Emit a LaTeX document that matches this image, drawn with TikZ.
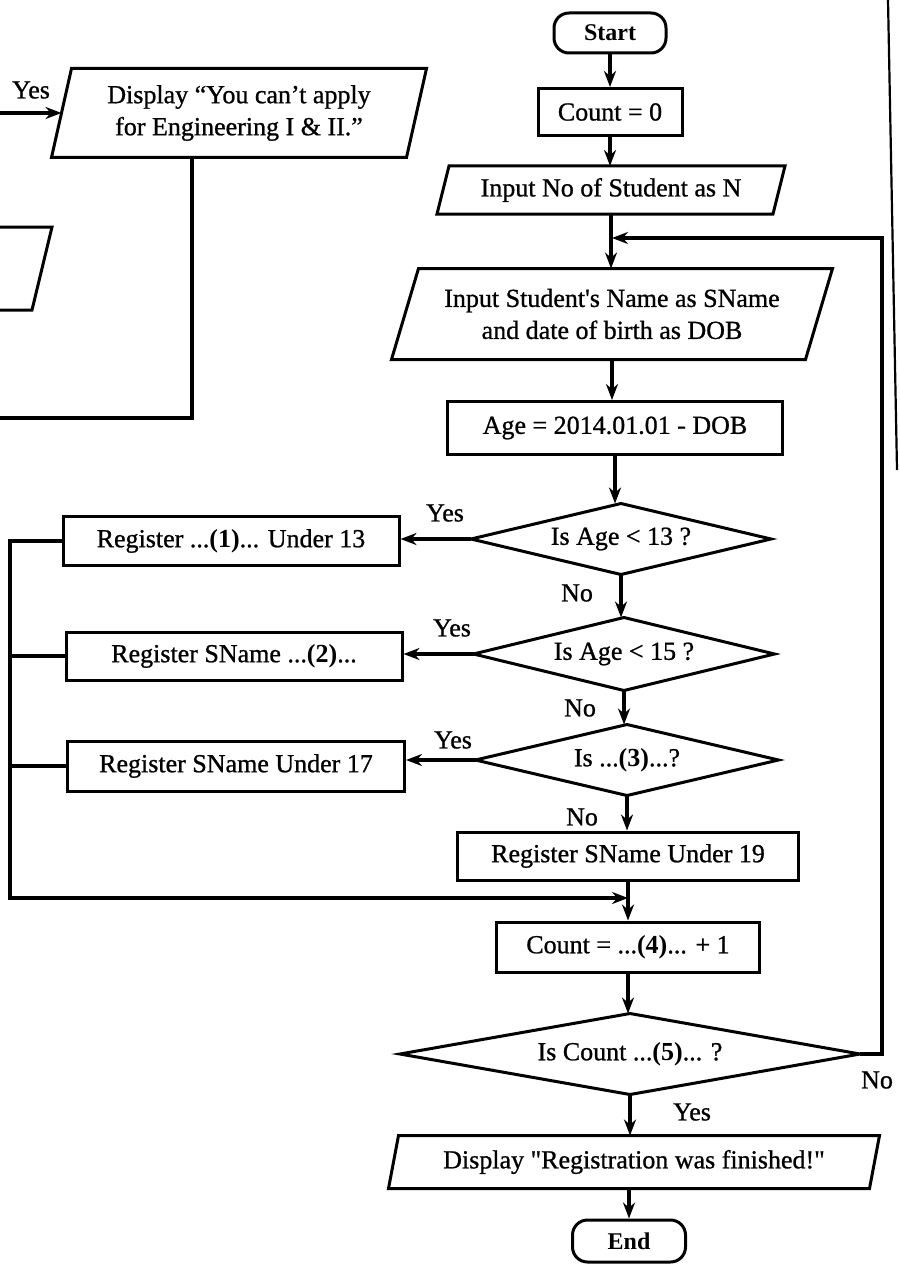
\documentclass[tikz,border=0pt]{standalone}
\usepackage{fontspec}
\setmainfont{Liberation Serif}
\newfontfamily\txt{Liberation Serif}[FakeBold=0.9]
\newfontfamily\txtb{Liberation Serif Bold}
\usetikzlibrary{arrows.meta}
\newcommand\mydiamond[1]{\draw[shapeline] (#1.north) -- (#1.east) -- (#1.south) -- (#1.west) -- cycle;}
\newcommand\mypara[2]{\draw[shapeline] ([xshift=#2]#1.north west) -- ([xshift=#2]#1.north east) -- ([xshift=-#2]#1.south east) -- ([xshift=-#2]#1.south west) -- cycle;}
\newcommand\nb[1]{{\txtb #1}}
\begin{document}
\begin{tikzpicture}[x=1pt,y=-1pt,
  base/.style={font=\txt\fontsize{26}{32}\selectfont, inner sep=0pt, align=center, line width=3pt},
  box/.style={base, draw, rectangle},
  term/.style={base, draw, rounded corners=15pt, font=\txtb\fontsize{24}{28}\selectfont},
  dia/.style={base, rectangle},
  io/.style={base, rectangle},
  shapeline/.style={line width=3pt, line join=miter},
  conn/.style={line width=3.3pt, line cap=butt},
  arr/.style={conn, -{Stealth[length=16pt,width=12pt]}},
  lab/.style={font=\txt\fontsize{26}{30}\selectfont, inner sep=0pt}]
\useasboundingbox (0,0) rectangle (899,1268);

% main column
\node[term, minimum width=112pt, minimum height=40pt] (start) at (610,33) {Start};
\node[box, minimum width=144pt, minimum height=47pt] (c0) at (610,112) {Count = 0};
\node[io, minimum width=333pt, minimum height=45pt] (inN) at (611,190) {Input No of Student as N};
\node[io, minimum width=411pt, minimum height=88pt] (inS) at (612,314) {Input Student's Name as SName\\and date of birth as DOB};
\node[box, minimum width=335pt, minimum height=53pt] (age) at (615,428) {Age = 2014.01.01 - DOB};
\node[dia, minimum width=297pt, minimum height=68pt] (d1) at (621,539) {Is Age < 13 ?};
\node[dia, minimum width=298pt, minimum height=70pt] (d2) at (624,654) {Is Age < 15 ?};
\node[dia, minimum width=300pt, minimum height=68pt] (d3) at (627,760) {Is ...\nb{(3)}...?};
\node[box, minimum width=341pt, minimum height=48pt] (r19) at (628,856) {Register SName Under 19};
\node[box, minimum width=263pt, minimum height=50pt] (c4) at (628,947) {Count = ...\nb{(4)}... + 1};
\node[dia, minimum width=457pt, minimum height=78pt] (d5) at (630,1054) {Is Count ...\nb{(5)}... ?};
\node[io, minimum width=478pt, minimum height=50pt] (fin) at (634,1162) {Display "Registration was finished!"};
\node[term, minimum width=113pt, minimum height=42pt] (end) at (629,1241) {End};

% left register boxes
\node[box, minimum width=336pt, minimum height=49pt] (r1) at (231,541) {Register ...\nb{(1)}... Under 13};
\node[box, minimum width=336pt, minimum height=48pt] (r2) at (234,656) {Register SName ...\nb{(2)}...};
\node[box, minimum width=337pt, minimum height=50pt] (r3) at (236,766) {Register SName Under 17};

% top-left display
\node[io, minimum width=352pt, minimum height=86pt] (td) at (239,113) {Display “You can’t apply\\for Engineering I \& II.”};

% custom outlines
\mypara{inN}{6}
\mypara{inS}{13.5}
\mypara{fin}{5}
\mypara{td}{10}
\mydiamond{d1}
\mydiamond{d2}
\mydiamond{d3}
\mydiamond{d5}

% main flow
\draw[arr] (start) -- (start |- c0.north);
\draw[arr] (c0) -- (c0 |- inN.north);
\draw[arr] (inN) -- (inN |- inS.north);
\draw[arr] (inS) -- (inS |- age.north);
\draw[arr] (age) -- (age |- d1.north);
\draw[arr] (d1) -- (d1 |- d2.north);
\draw[arr] (d2) -- (d2 |- d3.north);
\draw[arr] (d3) -- (d3 |- r19.north);
\draw[arr] (r19) -- (r19 |- c4.north);
\draw[arr] (c4) -- (c4 |- d5.north);
\draw[arr] (d5) -- (d5 |- fin.north);
\draw[arr] (end |- fin.south) -- (end);

% loop back
\coordinate (lp) at (882,238);
\draw[arr] (d5.east) -| (lp) -- (lp -| inS.north);

% yes branches
\draw[arr] (d1.west) -- (d1.west -| r1.east);
\draw[arr] (d2.west) -- (d2.west -| r2.east);
\draw[arr] (d3.west) -- (d3.west -| r3.east);

% left bus
\coordinate (bb) at (10,898);
\draw[arr] (r1.west) -| (bb) -- (bb -| c4.north);
\draw[conn] (r2.west) -- (r2.west -| bb);
\draw[conn] (r3.west) -- (r3.west -| bb);

% top-left fragments
\coordinate (tdin) at (0,113);
\draw[arr] (tdin) -- (td.west);
\coordinate (tdc) at (192,418);
\coordinate (tdl) at (0,418);
\draw[conn] (td.south -| tdc) -- (tdc) -- (tdl);
\draw[shapeline] (0,227) -- (52,227) -- (32,310) -- (0,310);
\draw[line width=2.2pt] (888,0) -- (897,470);

% labels
\node[lab] at (31,90) {Yes};
\node[lab] at (445,513) {Yes};
\node[lab] at (452,628) {Yes};
\node[lab] at (453,740) {Yes};
\node[lab] at (577,593) {No};
\node[lab] at (580,708) {No};
\node[lab] at (582,817) {No};
\node[lab] at (692,1112) {Yes};
\node[lab] at (877,1080) {No};
\end{tikzpicture}
\end{document}
